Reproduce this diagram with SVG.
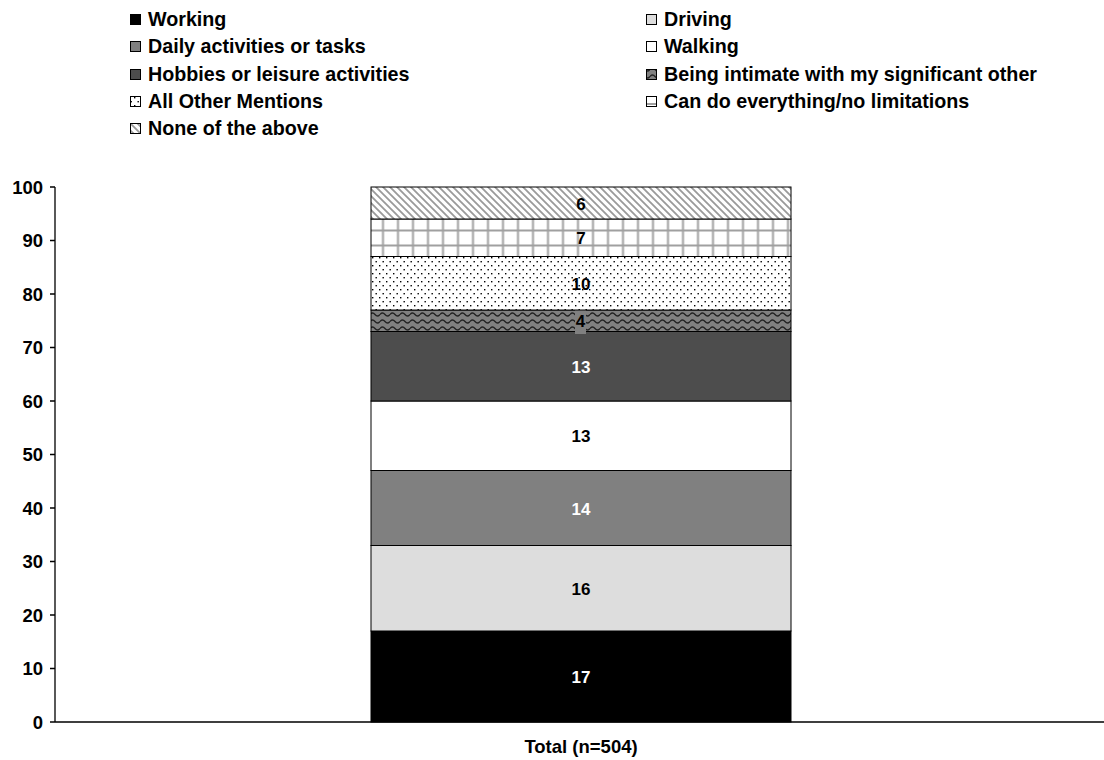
<svg xmlns="http://www.w3.org/2000/svg" width="1104" height="760" viewBox="0 0 1104 760">
<style>
text{font-family:"Liberation Sans",Arial,sans-serif;font-weight:bold;fill:#000}
.lg{font-size:19.7px}
.tk{font-size:18.5px;text-anchor:end}
.vl{font-size:17px;text-anchor:middle}
.wt{fill:#fff}
.seg{stroke:#000;stroke-width:1}
.ic{stroke:#000;stroke-width:1}
.ax{stroke:#000;stroke-width:1.3;fill:none}
</style>
<defs>
<pattern id="hatch" patternUnits="userSpaceOnUse" width="7" height="7">
<rect width="7" height="7" fill="#fff"/>
<path d="M-2,-2 L9,9 M-2,5 L2,9 M5,-2 L9,2" stroke="#9a9a9a" stroke-width="1.8"/>
</pattern>
<pattern id="grid" patternUnits="userSpaceOnUse" x="375.5" y="223" width="15" height="15">
<rect width="15" height="15" fill="#fff"/>
<path d="M7.5,0 V15 M0,7.5 H15" stroke="#a0a0a0" stroke-width="2"/>
</pattern>
<pattern id="dots" patternUnits="userSpaceOnUse" width="7" height="8">
<rect width="7" height="8" fill="#fff"/>
<rect x="1" y="1" width="1.4" height="1.4" fill="#000"/>
<rect x="4.5" y="5" width="1.4" height="1.4" fill="#000"/>
</pattern>
<pattern id="wave" patternUnits="userSpaceOnUse" width="10" height="7" y="311">
<rect width="10" height="7" fill="#808080"/>
<path d="M0,3.5 Q2.5,0.5 5,3.5 T10,3.5" stroke="#222" stroke-width="1.4" fill="none"/>
</pattern>
</defs>

<g id="legend">
<g id="lg-working"><rect class="ic" x="130.5" y="14.5" width="10" height="10" fill="#000"/><text class="lg" x="148" y="26">Working</text></g>
<g id="lg-daily"><rect class="ic" x="130.5" y="41.5" width="10" height="10" fill="#808080"/><text class="lg" x="148" y="53">Daily activities or tasks</text></g>
<g id="lg-hobbies"><rect class="ic" x="130.5" y="69.5" width="10" height="10" fill="#4d4d4d"/><text class="lg" x="148" y="81">Hobbies or leisure activities</text></g>
<g id="lg-other"><rect class="ic" x="130.5" y="96.5" width="10" height="10" fill="url(#dots)"/><text class="lg" x="148" y="108">All Other Mentions</text></g>
<g id="lg-none"><rect class="ic" x="130.5" y="123.5" width="10" height="10" fill="url(#hatch)"/><text class="lg" x="148" y="135">None of the above</text></g>
<g id="lg-driving"><rect class="ic" x="646.5" y="14.5" width="10" height="10" fill="#dddddd"/><text class="lg" x="664" y="26">Driving</text></g>
<g id="lg-walking"><rect class="ic" x="646.5" y="41.5" width="10" height="10" fill="#fff"/><text class="lg" x="664" y="53">Walking</text></g>
<g id="lg-intimate"><rect class="ic" x="646.5" y="69.5" width="10" height="10" fill="url(#wave)"/><text class="lg" x="664" y="81">Being intimate with my significant other</text></g>
<g id="lg-cando"><rect class="ic" x="646.5" y="96.5" width="10" height="10" fill="#fff"/><line x1="647" y1="104" x2="656" y2="104" stroke="#a0a0a0" stroke-width="2"/><text class="lg" x="664" y="108">Can do everything/no limitations</text></g>
</g>

<g id="bar">
<g id="seg-working"><rect class="seg" x="371" y="631" width="420" height="91" fill="#000"/><text class="vl wt" x="581" y="682.5">17</text></g>
<g id="seg-driving"><rect class="seg" x="371" y="545.5" width="420" height="85.5" fill="#dddddd"/><text class="vl" x="581" y="594.5">16</text></g>
<g id="seg-daily"><rect class="seg" x="371" y="470.5" width="420" height="75" fill="#808080"/><text class="vl wt" x="581" y="514.5">14</text></g>
<g id="seg-walking"><rect class="seg" x="371" y="401" width="420" height="69.5" fill="#fff"/><text class="vl" x="581" y="442">13</text></g>
<g id="seg-hobbies"><rect class="seg" x="371" y="331.5" width="420" height="69.5" fill="#4d4d4d"/><text class="vl wt" x="581" y="372.5">13</text></g>
<g id="seg-intimate"><rect class="seg" x="371" y="310" width="420" height="21.5" fill="url(#wave)"/><rect x="575" y="308" width="11" height="26" fill="#808080"/><text class="vl" x="580.5" y="327">4</text></g>
<g id="seg-other"><rect class="seg" x="371" y="256.5" width="420" height="53.5" fill="url(#dots)"/><text class="vl" x="581" y="289.5">10</text></g>
<g id="seg-cando"><rect class="seg" x="371" y="219" width="420" height="37.5" fill="url(#grid)"/><text class="vl" x="581" y="244">7</text></g>
<g id="seg-none"><rect class="seg" x="371" y="187" width="420" height="32" fill="url(#hatch)"/><text class="vl" x="581" y="209.5">6</text></g>
</g>

<g id="axes">
<path class="ax" d="M55,187 V722 M55,722 H1104 M50,187 H55 M50,240.5 H55 M50,294 H55 M50,347.5 H55 M50,401 H55 M50,454.5 H55 M50,508 H55 M50,561.5 H55 M50,615 H55 M50,668.5 H55 M50,722 H55"/>
<text class="tk" x="43" y="193.5">100</text>
<text class="tk" x="43" y="247">90</text>
<text class="tk" x="43" y="300.5">80</text>
<text class="tk" x="43" y="354">70</text>
<text class="tk" x="43" y="407.5">60</text>
<text class="tk" x="43" y="461">50</text>
<text class="tk" x="43" y="514.5">40</text>
<text class="tk" x="43" y="568">30</text>
<text class="tk" x="43" y="621.5">20</text>
<text class="tk" x="43" y="675">10</text>
<text class="tk" x="43" y="728.5">0</text>
<text class="vl" x="581" y="753" style="font-size:18.5px">Total (n=504)</text>
</g>
</svg>
